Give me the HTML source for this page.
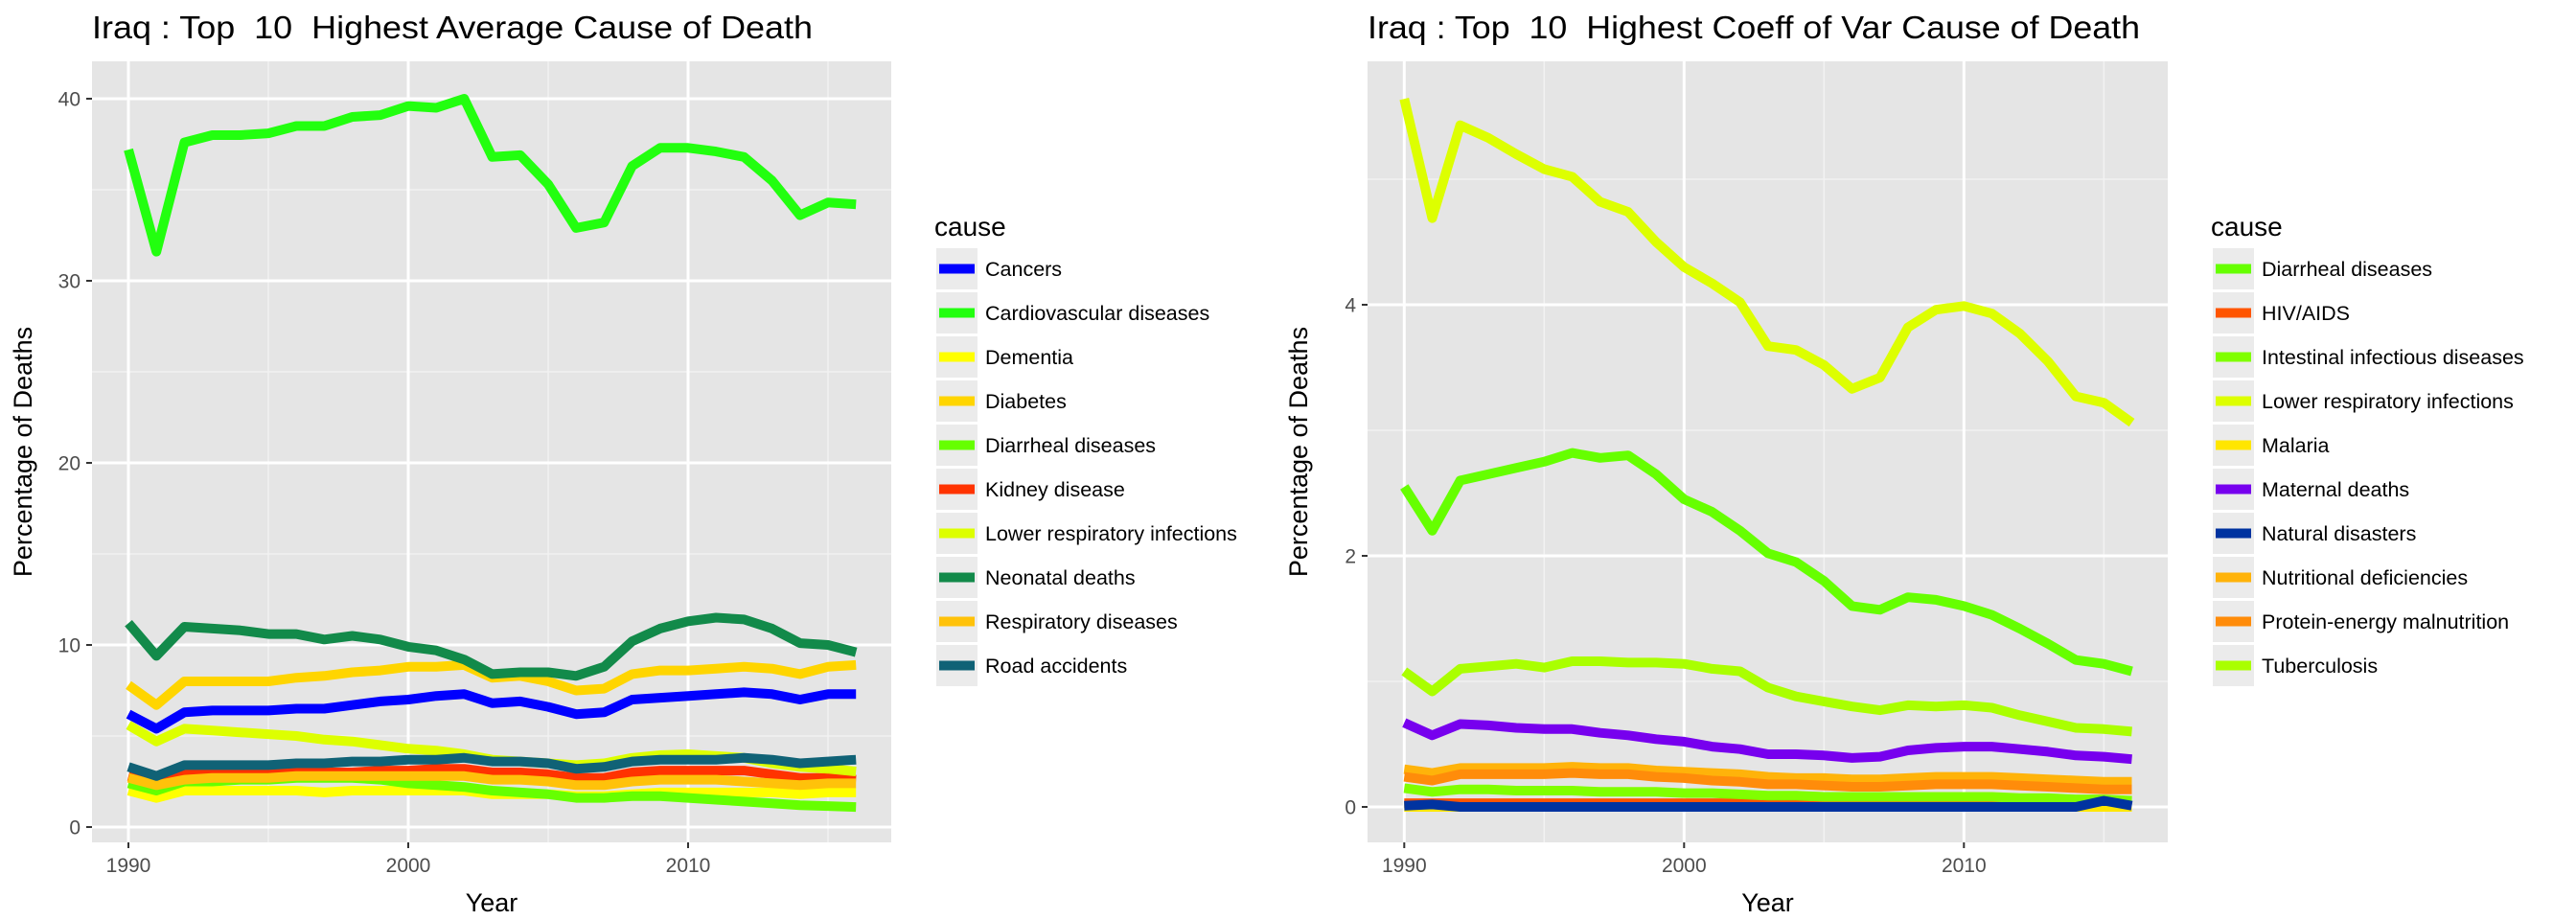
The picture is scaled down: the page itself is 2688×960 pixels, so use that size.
<!DOCTYPE html>
<html><head><meta charset="utf-8">
<style>
html,body{margin:0;padding:0;background:#fff;}
svg{display:block;font-family:"Liberation Sans",Arial,sans-serif;}
text{white-space:pre;}
</style></head>
<body>
<svg id="chart" width="2688" height="960" viewBox="0 0 2688 960" xmlns="http://www.w3.org/2000/svg" xml:space="preserve"></svg>
<script>
const years = [1990,1991,1992,1993,1994,1995,1996,1997,1998,1999,2000,2001,2002,2003,2004,2005,2006,2007,2008,2009,2010,2011,2012,2013,2014,2015,2016];

// Left chart data
const leftCauses = ["Cancers","Cardiovascular diseases","Dementia","Diabetes","Diarrheal diseases","Kidney disease","Lower respiratory infections","Neonatal deaths","Respiratory diseases","Road accidents"];
const leftColors = ["#0000FF","#22FF0F","#FFFF00","#FFD500","#66FF00","#FF3300","#DDFF00","#128A4A","#FFC20A","#106276"];
const leftCancers = [6.2,5.4,6.3,6.4,6.4,6.4,6.5,6.5,6.7,6.9,7.0,7.2,7.3,6.8,6.9,6.6,6.2,6.3,7.0,7.1,7.2,7.3,7.4,7.3,7.0,7.3,7.3];
const leftCardio = [37.2,31.6,37.6,38.0,38.0,38.1,38.5,38.5,39.0,39.1,39.6,39.5,40.0,36.8,36.9,35.3,32.9,33.2,36.3,37.3,37.3,37.1,36.8,35.5,33.6,34.3,34.2];
const leftDementia = [2.0,1.6,2.0,2.0,2.0,2.0,2.0,1.9,2.0,2.0,2.0,2.0,2.0,1.8,1.8,1.8,1.7,1.7,1.8,1.9,1.9,1.9,1.9,1.9,1.8,1.9,1.9];
const leftDiabetes = [7.8,6.7,8.0,8.0,8.0,8.0,8.2,8.3,8.5,8.6,8.8,8.8,8.9,8.2,8.3,8.0,7.5,7.6,8.4,8.6,8.6,8.7,8.8,8.7,8.4,8.8,8.9];
const leftDiarrheal = [2.4,2.0,2.5,2.5,2.6,2.6,2.7,2.7,2.7,2.6,2.4,2.3,2.2,2.0,1.9,1.8,1.6,1.6,1.7,1.7,1.6,1.5,1.4,1.3,1.2,1.15,1.1];
const leftKidney = [2.8,2.4,2.9,2.9,2.9,2.9,3.0,3.0,3.0,3.1,3.1,3.2,3.2,3.0,3.0,2.9,2.7,2.7,3.0,3.1,3.1,3.1,3.1,2.9,2.7,2.7,2.6];
const leftLRI = [5.6,4.7,5.4,5.3,5.2,5.1,5.0,4.8,4.7,4.5,4.3,4.2,4.0,3.7,3.6,3.5,3.4,3.5,3.8,3.95,4.0,3.9,3.8,3.5,3.3,3.2,3.05];
const leftNeonatal = [11.2,9.4,11.0,10.9,10.8,10.6,10.6,10.3,10.5,10.3,9.9,9.7,9.2,8.4,8.5,8.5,8.3,8.8,10.2,10.9,11.3,11.5,11.4,10.9,10.1,10.0,9.6];
const leftRespiratory = [2.7,2.3,2.6,2.7,2.7,2.7,2.8,2.8,2.8,2.8,2.8,2.8,2.8,2.6,2.6,2.5,2.3,2.3,2.5,2.6,2.6,2.6,2.5,2.4,2.3,2.4,2.4];
const leftRoad = [3.3,2.8,3.4,3.4,3.4,3.4,3.5,3.5,3.6,3.6,3.7,3.7,3.8,3.6,3.6,3.5,3.2,3.3,3.6,3.7,3.7,3.7,3.8,3.7,3.5,3.6,3.7];
const leftSeries = [leftCancers,leftCardio,leftDementia,leftDiabetes,leftDiarrheal,leftKidney,leftLRI,leftNeonatal,leftRespiratory,leftRoad];
const leftYTicks = [0,10,20,30,40];
const leftYMinor = [5,15,25,35];

// Right chart data
const rightCauses = ["Diarrheal diseases","HIV/AIDS","Intestinal infectious diseases","Lower respiratory infections","Malaria","Maternal deaths","Natural disasters","Nutritional deficiencies","Protein-energy malnutrition","Tuberculosis"];
const rightColors = ["#66FF00","#FF5500","#80FF00","#DDFF00","#FFE600","#7700EE","#0033A0","#FFB30A","#FF8C0A","#AAFF00"];
const rightDiarrheal = [2.55,2.2,2.6,2.65,2.7,2.75,2.82,2.78,2.8,2.65,2.45,2.35,2.2,2.02,1.95,1.8,1.6,1.57,1.67,1.65,1.6,1.53,1.42,1.3,1.17,1.14,1.08];
const rightHIV = [0.03,0.03,0.03,0.03,0.03,0.03,0.03,0.03,0.03,0.03,0.03,0.03,0.03,0.03,0.03,0.03,0.03,0.03,0.03,0.03,0.03,0.03,0.03,0.03,0.03,0.03,0.03];
const rightIntestinal = [0.15,0.12,0.14,0.14,0.13,0.13,0.13,0.12,0.12,0.12,0.11,0.11,0.1,0.09,0.09,0.08,0.08,0.08,0.08,0.08,0.08,0.08,0.07,0.07,0.06,0.06,0.05];
const rightLRI = [5.64,4.69,5.43,5.33,5.2,5.08,5.02,4.82,4.74,4.5,4.3,4.17,4.02,3.67,3.64,3.52,3.33,3.42,3.82,3.96,3.99,3.93,3.77,3.55,3.27,3.22,3.06];
const rightMalaria = [0,0,0,0,0,0,0,0,0,0,0,0,0,0,0,0,0,0,0,0,0,0,0,0,0,0,0];
const rightMaternal = [0.67,0.57,0.66,0.65,0.63,0.62,0.62,0.59,0.57,0.54,0.52,0.48,0.46,0.42,0.42,0.41,0.39,0.4,0.45,0.47,0.48,0.48,0.46,0.44,0.41,0.4,0.38];
const rightNatural = [0.01,0.02,0,0,0,0,0,0,0,0,0,0,0,0,0,0,0,0,0,0,0,0,0,0,0,0.05,0.01];
const rightNutritional = [0.3,0.27,0.31,0.31,0.31,0.31,0.32,0.31,0.31,0.29,0.28,0.27,0.26,0.24,0.23,0.23,0.22,0.22,0.23,0.24,0.24,0.24,0.23,0.22,0.21,0.2,0.2];
const rightProtein = [0.24,0.21,0.26,0.26,0.26,0.26,0.27,0.26,0.26,0.24,0.23,0.21,0.2,0.18,0.18,0.17,0.16,0.16,0.17,0.18,0.18,0.18,0.17,0.16,0.15,0.14,0.14];
const rightTB = [1.08,0.92,1.1,1.12,1.14,1.11,1.16,1.16,1.15,1.15,1.14,1.1,1.08,0.95,0.88,0.84,0.8,0.77,0.81,0.8,0.81,0.79,0.73,0.68,0.63,0.62,0.6];
const rightSeries = [rightDiarrheal,rightHIV,rightIntestinal,rightLRI,rightMalaria,rightMaternal,rightNatural,rightNutritional,rightProtein,rightTB];
const rightYTicks = [0,2,4];
const rightYMinor = [1,3,5];

const xTicks = [1990,2000,2010];
const xMinor = [1995,2005,2015];

const NS = "http://www.w3.org/2000/svg";
const svg = document.getElementById('chart');
function mk(tag, attrs, parent){
  const e = document.createElementNS(NS, tag);
  for (const k in attrs) e.setAttribute(k, attrs[k]);
  (parent||svg).appendChild(e);
  return e;
}

function drawPanel(cfg){
  const g = mk('g', {});
  
  
  const xs = y => cfg.x1990 + (y - 1990) * cfg.pxYear;
  const ys = v => cfg.y0 - v * cfg.pxUnit;

  const title = mk('text', {x: cfg.left, y: 40, 'font-size': 33, fill: '#000', textLength: cfg.titleLen, lengthAdjust: 'spacingAndGlyphs'}, g);
  title.textContent = cfg.title;
  
  

  const bg = mk('rect', {x: cfg.left, y: cfg.top, width: cfg.right - cfg.left, height: cfg.bottom - cfg.top, fill: '#E5E5E5'}, g);
  
  

  cfg.yMinor.forEach(v => {
    const l = mk('line', {x1: cfg.left, x2: cfg.right, y1: ys(v), y2: ys(v), stroke: '#F2F2F2', 'stroke-width': 1.5}, g);
    
    
  });
  xMinor.forEach(v => {
    const l = mk('line', {x1: xs(v), x2: xs(v), y1: cfg.top, y2: cfg.bottom, stroke: '#F2F2F2', 'stroke-width': 1.5}, g);
    
    
  });
  cfg.yTicks.forEach(v => {
    const l = mk('line', {x1: cfg.left, x2: cfg.right, y1: ys(v), y2: ys(v), stroke: '#FFFFFF', 'stroke-width': 3}, g);
    
    
    const t = mk('line', {x1: cfg.left - 6, x2: cfg.left, y1: ys(v), y2: ys(v), stroke: '#333', 'stroke-width': 2}, g);
    
    
    const lb = mk('text', {x: cfg.left - 12, y: ys(v) + 7.5, 'font-size': 21, fill: '#4D4D4D', 'text-anchor': 'end'}, g);
    lb.textContent = v;
    
    
  });
  xTicks.forEach(v => {
    const l = mk('line', {x1: xs(v), x2: xs(v), y1: cfg.top, y2: cfg.bottom, stroke: '#FFFFFF', 'stroke-width': 3}, g);
    
    
    const t = mk('line', {x1: xs(v), x2: xs(v), y1: cfg.bottom, y2: cfg.bottom + 6, stroke: '#333', 'stroke-width': 2}, g);
    
    
    const lb = mk('text', {x: xs(v), y: 910, 'font-size': 21, fill: '#4D4D4D', 'text-anchor': 'middle'}, g);
    lb.textContent = v;
    
    
  });

  cfg.series.forEach((arr, i) => {
    const d = arr.map((v, j) => (j ? 'L' : 'M') + xs(years[j]).toFixed(1) + ' ' + ys(v).toFixed(1)).join(' ');
    const p = mk('path', {d: d, fill: 'none', stroke: cfg.colors[i], 'stroke-width': 10, 'stroke-linejoin': 'round'}, g);
    
    
  });

  const xt = mk('text', {x: (cfg.left + cfg.right) / 2, y: 951, 'font-size': 27, fill: '#000', 'text-anchor': 'middle'}, g);
  xt.textContent = 'Year';
  
  
  const cy = (cfg.top + cfg.bottom) / 2;
  const yt = mk('text', {x: cfg.left - 63, y: cy, 'font-size': 27, fill: '#000', 'text-anchor': 'middle', transform: 'rotate(-90 ' + (cfg.left - 63) + ' ' + cy + ')'}, g);
  yt.textContent = 'Percentage of Deaths';
  
  

  const lg = mk('g', {}, g);
  
  
  const lt = mk('text', {x: cfg.legX - 2, y: 246, 'font-size': 28, fill: '#000'}, lg);
  lt.textContent = 'cause';
  
  
  cfg.causes.forEach((c, i) => {
    const y = 259 + i * 46;
    const e = mk('g', {}, lg);
    
    
    mk('rect', {x: cfg.legX, y: y, width: 43, height: 43, fill: '#EBEBEB'}, e);
    mk('line', {x1: cfg.legX + 3, x2: cfg.legX + 40, y1: y + 21.5, y2: y + 21.5, stroke: cfg.colors[i], 'stroke-width': 10}, e);
    const tx = mk('text', {x: cfg.legX + 51, y: y + 29, 'font-size': 21.5, fill: '#000'}, e);
    tx.textContent = c;
  });
}

drawPanel({name: 'left-chart', title: 'Iraq : Top  10  Highest Average Cause of Death', titleLen: 752,
  left: 96, right: 930, top: 64, bottom: 879, x1990: 134, pxYear: 29.2, y0: 863, pxUnit: 19,
  yTicks: leftYTicks, yMinor: leftYMinor, series: leftSeries, colors: leftColors, causes: leftCauses, legX: 977});
drawPanel({name: 'right-chart', title: 'Iraq : Top  10  Highest Coeff of Var Cause of Death', titleLen: 806,
  left: 1427, right: 2262, top: 64, bottom: 879, x1990: 1465.3, pxYear: 29.2, y0: 842, pxUnit: 131,
  yTicks: rightYTicks, yMinor: rightYMinor, series: rightSeries, colors: rightColors, causes: rightCauses, legX: 2309});
</script>
</body></html>
